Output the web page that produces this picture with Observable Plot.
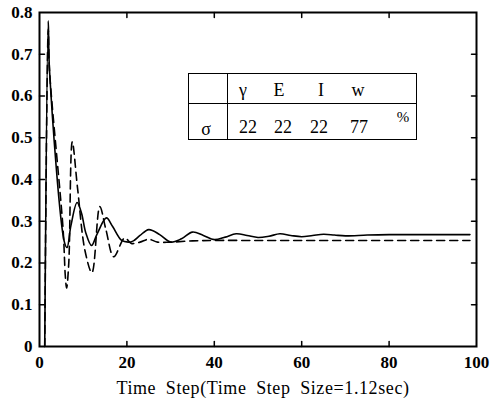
<!DOCTYPE html>
<html>
<head>
<meta charset="utf-8">
<script src="https://cdn.jsdelivr.net/npm/d3@7"></script>
<script src="https://cdn.jsdelivr.net/npm/@observablehq/plot@0.6"></script>
<style>
  body { margin: 0; background: #fff; }
  #wrap { position: relative; width: 490px; height: 401px; background: #fff; }
  #tbl { position: absolute; font-family: "Liberation Serif", "DejaVu Serif", serif; color: #000; }
  #tbl div { position: absolute; }
  #tbl .t { transform: translate(-50%, -50%); white-space: nowrap; line-height: 1; }
</style>
</head>
<body>
<div id="wrap"></div>
<script>
// ---- data ----
const xTicks = [0, 20, 40, 60, 80, 100];
const yTicks = [0, 0.1, 0.2, 0.3, 0.4, 0.5, 0.6, 0.7, 0.8];
const xLabel = "Time\u2002Step(Time\u2002Step\u2002Size=1.12sec)";

const solidT = [1.2, 2.0, 2.3, 5.7, 6.3, 7.2, 8.6, 9.6, 10.6, 11.9, 13.2, 15.3, 16.7, 18.8, 20.3, 21.5, 23, 25, 27.5, 30, 32.5, 35, 37.5, 40, 42.5, 45, 47.5, 50, 52.5, 55, 57.5, 60, 62.5, 65, 67.5, 70, 75, 80, 90, 98.5];
const solidV = [0, 0.78, 0.66, 0.25, 0.237, 0.29, 0.345, 0.32, 0.272, 0.242, 0.27, 0.308, 0.288, 0.254, 0.25, 0.253, 0.266, 0.28, 0.268, 0.25, 0.258, 0.274, 0.266, 0.256, 0.262, 0.27, 0.266, 0.261, 0.264, 0.27, 0.266, 0.263, 0.266, 0.269, 0.267, 0.265, 0.267, 0.268, 0.268, 0.268];

const dashT = [1.2, 2.0, 2.3, 5.4, 5.9, 6.2, 6.7, 7.5, 8.7, 10.4, 12.0, 13.8, 15.2, 17.0, 19.5, 21, 23, 25, 27, 30, 35, 40, 50, 60, 70, 80, 90, 98.5];
const dashV = [0, 0.76, 0.66, 0.28, 0.17, 0.14, 0.2, 0.49, 0.38, 0.23, 0.177, 0.335, 0.28, 0.215, 0.26, 0.247, 0.25, 0.257, 0.25, 0.25, 0.253, 0.254, 0.254, 0.254, 0.254, 0.254, 0.254, 0.254];

const tableHeaders = ["γ", "E", "I", "w"];
const tableRowLabel = "σ";
const tableValues = ["22", "22", "22", "77"];
const tableUnit = "%";

// ---- build ----
const solid = solidT.map((t, i) => ({t, v: solidV[i]}));
const dashed = dashT.map((t, i) => ({t, v: dashV[i]}));
const innerY = yTicks.filter(d => d > 0 && d < 0.8);
const innerX = xTicks.filter(d => d > 0 && d < 100);
const tickShape = {draw(ctx, l) { ctx.moveTo(0, 0); ctx.lineTo(0, -l); }};
const tk = {length: 5, anchor: "start", shape: tickShape, stroke: "#000", strokeWidth: 1.5};

const chart = Plot.plot({
  width: 490,
  height: 401,
  marginLeft: 39,
  marginRight: 14,
  marginTop: 12,
  marginBottom: 55,
  x: {domain: [0, 100]},
  y: {domain: [0, 0.8]},
  style: {fontFamily: "'Liberation Serif', serif", background: "#fff", color: "#000"},
  marks: [
    Plot.axisY(yTicks, {tickSize: 0, tickPadding: 7, fontSize: 17, fontWeight: "bold", tickFormat: d => d === 0 ? "0" : d.toFixed(1), label: null}),
    Plot.axisX(xTicks, {tickSize: 0, tickPadding: 9, fontSize: 17, fontWeight: "bold", tickFormat: d => String(d), label: null}),
    Plot.text([xLabel], {text: d => d, frameAnchor: "bottom", dy: 47, dx: 5, fontSize: 18, fill: "#000", className: "xlab"}),
    Plot.vector(innerY, {y: d => d, frameAnchor: "left", rotate: 90, ...tk}),
    Plot.vector(innerY, {y: d => d, frameAnchor: "right", rotate: -90, ...tk}),
    Plot.vector(innerX, {x: d => d, frameAnchor: "bottom", rotate: 0, ...tk}),
    Plot.vector(innerX, {x: d => d, frameAnchor: "top", rotate: 180, ...tk}),
    Plot.line(dashed, {x: "t", y: "v", curve: "catmull-rom", stroke: "#000", strokeWidth: 1.6, strokeDasharray: "8,5"}),
    Plot.line(solid, {x: "t", y: "v", curve: "catmull-rom", stroke: "#000", strokeWidth: 1.6}),
    Plot.frame({stroke: "#000", strokeWidth: 2})
  ]
});
const wrap = document.getElementById("wrap");
wrap.appendChild(chart);
chart.querySelectorAll(".xlab text").forEach(t => t.setAttribute("letter-spacing", "0.6"));

// ---- inset table (annotation) ----
const tbl = document.createElement("div");
tbl.id = "tbl";
tbl.style.left = "188px"; tbl.style.top = "73px";
tbl.style.width = "229px"; tbl.style.height = "67px";
tbl.style.border = "1px solid #000"; tbl.style.boxSizing = "border-box";
wrap.appendChild(tbl);
function add(txt, l, t, w, h, cls, extra) {
  const d = document.createElement("div");
  if (cls) d.className = cls;
  d.style.left = l + "px"; d.style.top = t + "px";
  if (w != null) d.style.width = w + "px";
  if (h != null) d.style.height = h + "px";
  if (extra) Object.assign(d.style, extra);
  d.textContent = txt;
  tbl.appendChild(d);
  return d;
}
add("", 0, 29, 228, 1, null, {background: "#000"});
add("", 38, 0, 1, 66, null, {background: "#000"});
const hx = [54, 90, 132, 169];
const vx = [59, 94, 130, 170];
tableHeaders.forEach((h, i) => add(h, hx[i], 16, null, null, "t", {fontSize: "18px"}));
tableValues.forEach((v, i) => add(v, vx[i], 53, null, null, "t", {fontSize: "18px"}));
add(tableRowLabel, 17, 55, null, null, "t", {fontSize: "18px"});
add(tableUnit, 214, 43, null, null, "t", {fontSize: "15px"});
</script>
</body>
</html>
